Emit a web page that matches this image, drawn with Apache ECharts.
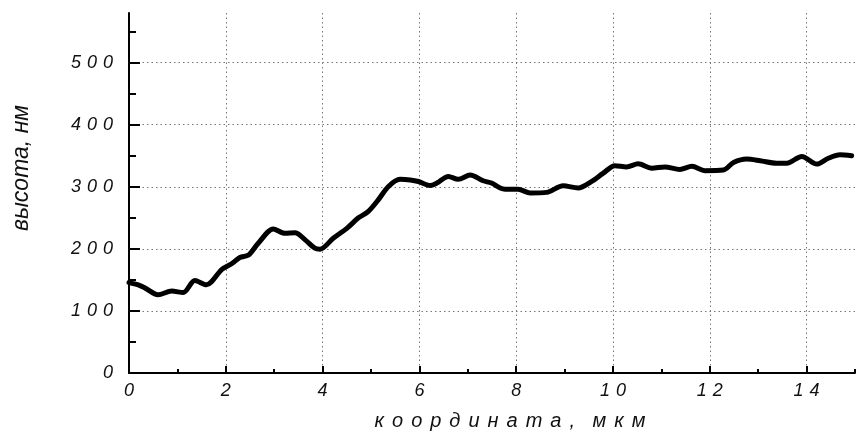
<!DOCTYPE html>
<html>
<head>
<meta charset="utf-8">
<script src="https://cdn.jsdelivr.net/npm/echarts@6/dist/echarts.min.js"></script>
<style>
html,body{margin:0;padding:0;background:#fff;}
#chart{width:859px;height:434px;}
</style>
</head>
<body>
<div id="chart"></div>
<script>
// Data
const coordinate = [0, 0.19, 0.33, 0.6, 0.88, 1.12, 1.36, 1.6, 1.92, 2.12, 2.29, 2.47, 2.67, 2.98, 3.22, 3.43, 3.64, 3.84, 3.95, 4.22, 4.5, 4.74, 4.94, 5.15, 5.36, 5.6, 5.81, 5.98, 6.22, 6.36, 6.6, 6.8, 7.05, 7.32, 7.49, 7.67, 7.77, 8.04, 8.29, 8.63, 8.97, 9.28, 9.56, 9.8, 10.04, 10.28, 10.52, 10.8, 11.07, 11.38, 11.63, 11.9, 12.28, 12.49, 12.76, 13.04, 13.38, 13.59, 13.9, 14.21, 14.45, 14.69, 14.93];
const height = [145.6, 142, 137, 126, 132, 129.5, 149, 142, 167, 176, 186, 190, 209, 232, 225, 226, 214.5, 201, 199.5, 217, 233, 250, 260, 279, 300.5, 312, 311, 308.5, 302, 306, 316.6, 312, 319, 309.7, 306, 298, 296, 296, 290, 291, 301.6, 298, 308.6, 322, 334, 332, 337, 330, 332, 328, 333, 326, 327, 339, 344.6, 342, 338, 338, 349, 336.6, 346, 351.6, 350];
const xMajorTicks = [0, 2, 4, 6, 8, 10, 12, 14];
const xMinorTicks = [1, 3, 5, 7, 9, 11, 13, 15];
const yMajorTicks = [0, 100, 200, 300, 400, 500];
const yMinorTicks = [50, 150, 250, 350, 450, 550];
const xTitle = 'координата, мкм';
const yTitle = 'высота, нм';

const FONT = 'Liberation Sans, Arial, sans-serif';
const labelRich = {
  d: {fontFamily: FONT, fontStyle: 'italic', fontSize: 18, color: '#111'},
  p: {fontFamily: FONT, fontStyle: 'italic', fontSize: 18, color: '#111', padding: [0, 0, 0, 6]}
};
function spaced(v) {
  return String(v).split('').map((c, i) => (i === 0 ? '{d|' : '{p|') + c + '}').join('');
}
function spacedTitle(s) {
  return s.split('').map(c => c === ' ' ? '{s| }' : '{t|' + c + '}').join('');
}

const pts = coordinate.map((x, i) => [x, height[i]]);
const chart = echarts.init(document.getElementById('chart'), null, {renderer: 'canvas'});
const grid = {left: 129, right: 4, top: 13, bottom: 61, containLabel: false};
const dotted = {show: true, lineStyle: {color: '#777', width: 1, type: [1.5, 3]}};
const baseLabel = {fontFamily: FONT, fontStyle: 'italic', fontSize: 18, color: '#111'};

chart.setOption({
  animation: false,
  backgroundColor: '#fff',
  grid: grid,
  xAxis: [
    {
      type: 'value', min: 0, max: 15,
      axisLine: {show: true, onZero: false, lineStyle: {color: '#000', width: 2}},
      axisTick: {show: true, inside: true, length: 7, lineStyle: {color: '#000', width: 2}, customValues: xMajorTicks},
      axisLabel: Object.assign({show: true, margin: 9, customValues: xMajorTicks, formatter: v => spaced(v), rich: labelRich}, baseLabel),
      splitLine: dotted
    },
    {
      type: 'value', min: 0, max: 15, position: 'bottom',
      axisLine: {show: false},
      axisTick: {show: true, inside: true, length: 4, lineStyle: {color: '#000', width: 2}, customValues: xMinorTicks},
      axisLabel: {show: false},
      splitLine: {show: false}
    }
  ],
  yAxis: [
    {
      type: 'value', min: 0, max: 580,
      axisLine: {show: true, onZero: false, lineStyle: {color: '#000', width: 2}},
      axisTick: {show: true, inside: true, length: 11, lineStyle: {color: '#000', width: 2}, customValues: yMajorTicks},
      axisLabel: Object.assign({show: true, margin: 16, customValues: yMajorTicks, formatter: v => spaced(v), rich: labelRich}, baseLabel),
      splitLine: dotted
    },
    {
      type: 'value', min: 0, max: 580, position: 'left',
      axisLine: {show: false},
      axisTick: {show: true, inside: true, length: 7, lineStyle: {color: '#000', width: 2}, customValues: yMinorTicks},
      axisLabel: {show: false},
      splitLine: {show: false}
    }
  ],
  graphic: [
    {
      type: 'text', x: 510, y: 421,
      style: {
        text: spacedTitle(xTitle), align: 'center', verticalAlign: 'middle',
        rich: {
          t: {fontFamily: FONT, fontStyle: 'italic', fontSize: 20, fill: '#111', padding: [0, 4, 0, 4]},
          s: {fontFamily: FONT, fontStyle: 'italic', fontSize: 20, fill: '#111', padding: [0, 2, 0, 2]}
        }
      }
    },
    {
      type: 'text', x: 22, y: 168, rotation: Math.PI / 2,
      style: {
        text: yTitle, align: 'center', verticalAlign: 'middle',
        fontFamily: FONT, fontStyle: 'italic', fontSize: 23, fill: '#111'
      }
    }
  ],
  series: [
    {
      type: 'line', xAxisIndex: 0, yAxisIndex: 0,
      data: pts, smooth: 0.3, showSymbol: false, symbol: 'none',
      lineStyle: {color: '#000', width: 5, cap: 'round', join: 'round'},
      z: 5
    }
  ]
});
</script>
</body>
</html>
